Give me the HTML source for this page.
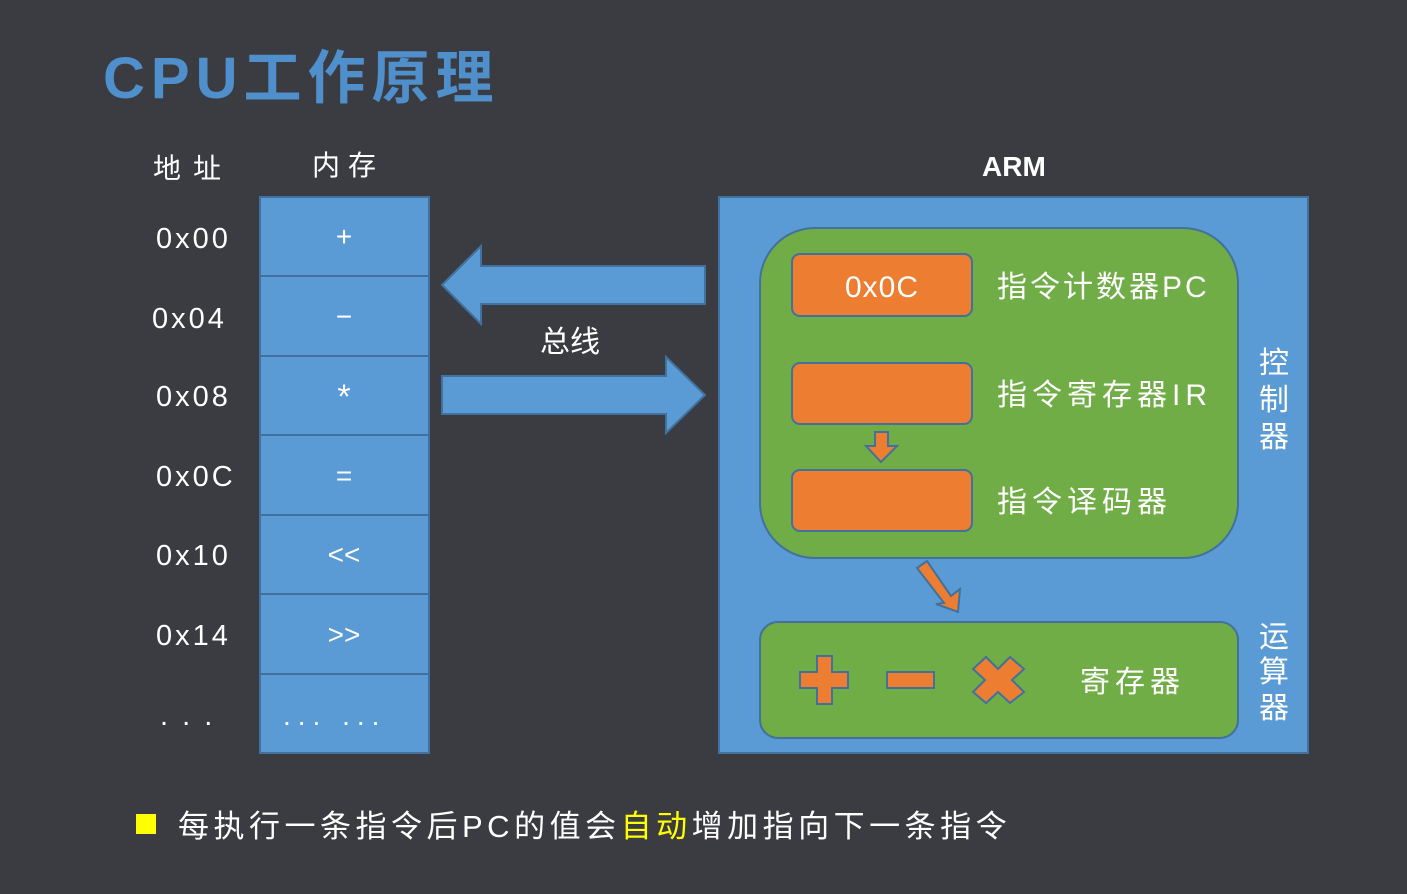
<!DOCTYPE html>
<html><head><meta charset="utf-8"><style>
html,body{margin:0;padding:0;background:#3b3c41;}
svg{display:block}
text{font-family:"Liberation Sans","Noto Sans CJK SC",sans-serif;fill:#fff}
</style></head><body>
<svg width="1407" height="894" viewBox="0 0 1407 894">
<rect width="1407" height="894" fill="#3b3c41"/>
<text x="103" y="98" font-size="58" font-weight="bold" letter-spacing="6" style="fill:#4e8fcc">CPU工作原理</text>
<text x="153" y="178" font-size="28" letter-spacing="12">地址</text>
<text x="312" y="175" font-size="28" letter-spacing="8">内存</text>
<text x="982" y="176" font-size="28" font-weight="bold">ARM</text>
<g font-size="29" letter-spacing="3">
<text x="156" y="248">0x00</text>
<text x="152" y="328">0x04</text>
<text x="156" y="406">0x08</text>
<text x="156" y="486">0x0C</text>
<text x="156" y="565">0x10</text>
<text x="156" y="645">0x14</text>
<text x="160" y="725">. . .</text>
</g>
<g fill="#5b9bd5" stroke="#41719c" stroke-width="2">
<rect x="260" y="197" width="169" height="79"/>
<rect x="260" y="276" width="169" height="80"/>
<rect x="260" y="356" width="169" height="79"/>
<rect x="260" y="435" width="169" height="80"/>
<rect x="260" y="515" width="169" height="79"/>
<rect x="260" y="594" width="169" height="80"/>
<rect x="260" y="674" width="169" height="79"/>
<polygon points="442,285 481,246 481,266 705,266 705,304 481,304 481,324"/>
<polygon points="442,376 666,376 666,357 705,395 666,433 666,414 442,414"/>
<rect x="719" y="197" width="589" height="556"/>
</g>
<g font-size="28" text-anchor="middle">
<text x="344" y="246">+</text>
<text x="344" y="326">−</text>
<text x="344" y="408" font-size="34">*</text>
<text x="344" y="485">=</text>
<text x="344" y="564">&lt;&lt;</text>
<text x="344" y="644">&gt;&gt;</text>
</g>
<text x="283" y="725" font-size="28" letter-spacing="7">...  ...</text>
<text x="540" y="352" font-size="30">总线</text>
<g stroke="#41719c" stroke-width="2">
<rect x="760" y="228" width="478" height="330" rx="55" fill="#70ad47"/>
<rect x="760" y="622" width="478" height="116" rx="18" fill="#70ad47"/>
<g fill="#ed7d31">
<rect x="792" y="254" width="180" height="62" rx="8"/>
<rect x="792" y="363" width="180" height="61" rx="8"/>
<rect x="792" y="470" width="180" height="61" rx="8"/>
<polygon points="875,432 888,432 888,446 897,446 881,462 866,446 875,446"/>
<polygon points="917,568 927,561 951,596 960,589 958,612 936,604 944,603"/>
<polygon points="817,656 832,656 832,672 848,672 848,688 832,688 832,704 817,704 817,688 800,688 800,672 817,672"/>
<rect x="887" y="672" width="47" height="16"/>
<polygon points="986,657 998,669 1010,657 1024,669 1012,680 1024,692 1010,703 998,692 986,703 973,692 985,680 973,669"/>
</g>
</g>
<text x="882" y="297" font-size="30" text-anchor="middle" letter-spacing="1">0x0C</text>
<g font-size="30">
<text x="997" y="297" letter-spacing="3">指令计数器PC</text>
<text x="997" y="405" letter-spacing="5">指令寄存器IR</text>
<text x="997" y="512" letter-spacing="5">指令译码器</text>
<text x="1080" y="692" letter-spacing="5">寄存器</text>
</g>
<g font-size="30" text-anchor="middle">
<text x="1274" y="373">控</text><text x="1274" y="410">制</text><text x="1274" y="447">器</text>
<text x="1274" y="647">运</text><text x="1274" y="682">算</text><text x="1274" y="718">器</text>
</g>
<rect x="136" y="814" width="20" height="20" fill="#ffff00"/>
<text x="178" y="837" font-size="31" letter-spacing="4.5">每执行一条指令后PC的值会<tspan style="fill:#ffff00">自动</tspan>增加指向下一条指令</text>
</svg>
</body></html>
